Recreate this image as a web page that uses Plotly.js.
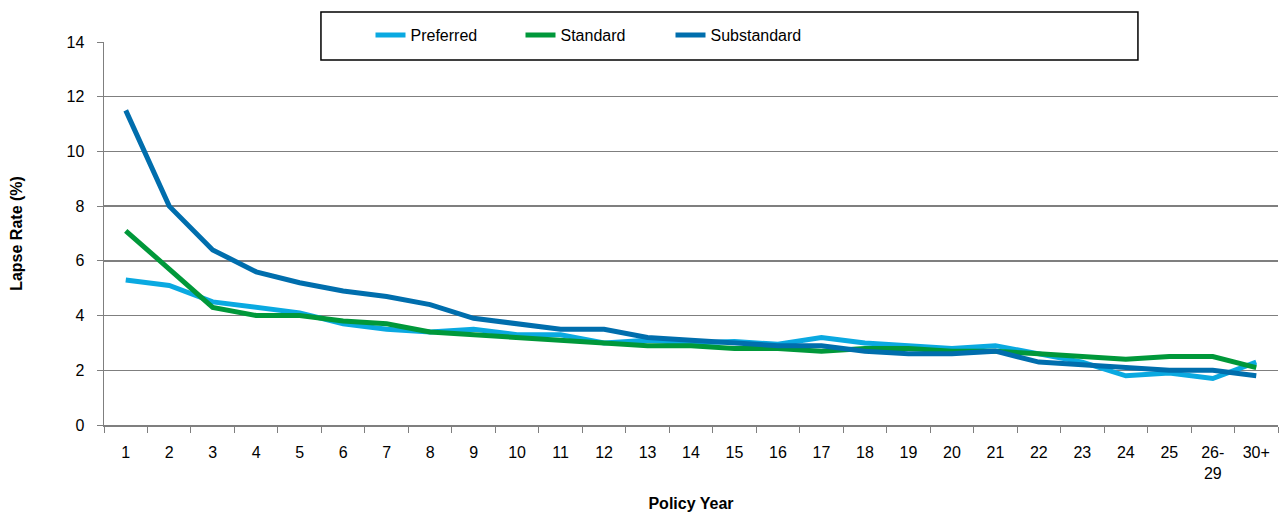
<!DOCTYPE html>
<html>
<head>
<meta charset="utf-8">
<script src="https://cdn.plot.ly/plotly-3.0.1.min.js"></script>
<style>html,body{margin:0;padding:0;background:#fff;}#chart{width:1285px;height:516px;}</style>
</head>
<body>
<div id="chart"></div>
<script>
const policyYears = ["1","2","3","4","5","6","7","8","9","10","11","12","13","14","15","16","17","18","19","20","21","22","23","24","25","26-<br>29","30+"];
const preferred   = [5.3,5.1,4.5,4.3,4.1,3.7,3.5,3.4,3.5,3.3,3.3,3.0,3.1,3.0,3.05,2.95,3.2,3.0,2.9,2.8,2.9,2.6,2.3,1.8,1.9,1.7,2.3];
const standard    = [7.1,5.7,4.3,4.0,4.0,3.8,3.7,3.4,3.3,3.2,3.1,3.0,2.9,2.9,2.8,2.8,2.7,2.8,2.8,2.7,2.7,2.6,2.5,2.4,2.5,2.5,2.1];
const substandard = [11.5,8.0,6.4,5.6,5.2,4.9,4.7,4.4,3.9,3.7,3.5,3.5,3.2,3.1,3.0,2.9,2.9,2.7,2.6,2.6,2.7,2.3,2.2,2.1,2.0,2.0,1.8];
const seriesNames = ["Preferred","Standard","Substandard"];
const seriesColors = ["#0AA9E1","#00983A","#006EAD"];
const seriesValues = [preferred, standard, substandard];

const traces = seriesValues.map((vals, i) => ({
  type: "scatter", mode: "lines", x: policyYears, y: vals, name: seriesNames[i],
  line: {color: seriesColors[i], width: 5}
}));

const font = "Liberation Sans, Arial, sans-serif";
const layout = {
  width: 1285, height: 516,
  margin: {l: 104, r: 7, t: 42, b: 91},
  paper_bgcolor: "#fff", plot_bgcolor: "#fff",
  font: {family: font, size: 16, color: "#000"},
  showlegend: true,
  legend: {orientation: "h", x: 0.227, xanchor: "left", y: 1.018, yanchor: "middle",
           bgcolor: "rgba(0,0,0,0)", borderwidth: 0, entrywidth: 105, entrywidthmode: "pixels",
           font: {family: font, size: 16, color: "#000"}, itemwidth: 30},
  xaxis: {type: "category", range: [-0.5, 26.5], tickson: "boundaries", ticks: "outside", ticklen: 6, tickcolor: "#7f7f7f",
          showgrid: false, showline: true, linecolor: "#7f7f7f", linewidth: 1.5,
          tickfont: {family: font, size: 16}, tickangle: 0, ticklabelstandoff: 12,
          title: {text: "<b>Policy Year</b>", font: {family: font, size: 16}, standoff: 17}},
  yaxis: {range: [0, 14], dtick: 2, ticks: "outside", ticklen: 6, tickcolor: "#7f7f7f",
          showgrid: true, gridcolor: "#7f7f7f", gridwidth: 1.5, zeroline: false,
          showline: true, linecolor: "#7f7f7f", linewidth: 1.5,
          tickfont: {family: font, size: 16}, ticklabelstandoff: 9,
          title: {text: "<b>Lapse Rate (%)</b>", font: {family: font, size: 16}, standoff: 40}},
  shapes: [{type: "rect", xref: "paper", yref: "paper", x0: 0.1848, x1: 0.8807, y0: 0.953, y1: 1.0783,
            fillcolor: "#fff", line: {color: "#000", width: 1.5}, layer: "above"}]
};
Plotly.newPlot("chart", traces, layout, {displayModeBar: false, staticPlot: true});
</script>
</body>
</html>
